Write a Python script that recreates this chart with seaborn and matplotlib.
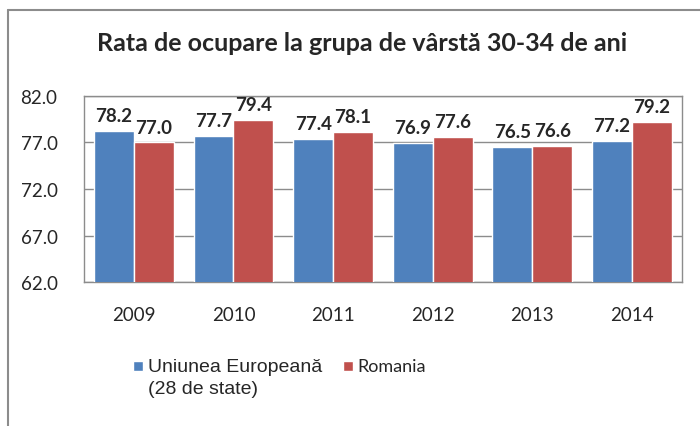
import matplotlib
matplotlib.use("Agg")
from matplotlib import pyplot as plt
from matplotlib.lines import Line2D
import seaborn as sns
import pandas as pd

years = ["2009", "2010", "2011", "2012", "2013", "2014"]
ue_values = [78.2, 77.7, 77.4, 76.9, 76.5, 77.2]
ro_values = [77.0, 79.4, 78.1, 77.6, 76.6, 79.2]
series_names = ["Uniunea Europeană", "Romania"]
ue_note = "(28 de state)"
y_ticks = [62, 67, 72, 77, 82]

df = pd.DataFrame({
    "an": years * 2,
    "valoare": ue_values + ro_values,
    "serie": [series_names[0]] * len(years) + [series_names[1]] * len(years),
})

sns.set_style("white")
plt.rcParams["font.family"] = ["Lato", "DejaVu Sans"]
arial = ["Liberation Sans", "DejaVu Sans"]

fig = plt.figure(figsize=(7, 4.27), dpi=100)
ax = fig.add_axes([0.12, 0.337, 0.854, 0.436])

sns.barplot(data=df, x="an", y="valoare", hue="serie",
            palette=["#4F81BD", "#C0504D"], width=0.8, saturation=1,
            ax=ax, zorder=3)

ax.set_ylim(62, 82)
ax.set_yticks(y_ticks)
ax.set_yticklabels([f"{v:.1f}" for v in y_ticks], fontsize=13.5)
ax.tick_params(axis="x", labelsize=13.5, pad=17, length=0)
ax.tick_params(axis="y", length=0, pad=19)
ax.set_xlabel("")
ax.set_ylabel("")
ax.grid(axis="y", color="#8c8c8c", linewidth=1, zorder=0)
for s in ax.spines.values():
    s.set_color("#8c8c8c")
    s.set_linewidth(1)

for cont in ax.containers:
    ax.bar_label(cont, fmt="%.1f", fontsize=13.5, fontweight="bold", padding=5)

fig.suptitle("Rata de ocupare la grupa de vârstă 30-34 de ani",
             x=0.517, y=0.925, fontsize=18, fontweight="bold")

leg = ax.legend(loc="upper left", bbox_to_anchor=(0.19, 0.16),
                bbox_transform=fig.transFigure, ncol=2,
                frameon=False, handlelength=0.75, handleheight=0.75,
                columnspacing=1.5, handletextpad=0.3, borderpad=0,
                borderaxespad=0)
texts = leg.get_texts()
texts[0].set_fontfamily(arial)
texts[0].set_fontsize(14)
texts[1].set_fontsize(13)

# second line of the EU label, aligned with the legend text
fig.canvas.draw()
bb = texts[0].get_window_extent().transformed(fig.transFigure.inverted())
fig.text(bb.x0, bb.y0 - 0.012, ue_note, ha="left", va="top",
         fontsize=14, family=arial)

# outer chart frame (left and top edges visible)
fig.add_artist(Line2D([0.011, 0.011], [0.0, 0.974], transform=fig.transFigure,
                      color="#8c8c8c", linewidth=1.5))
fig.add_artist(Line2D([0.011, 1.0], [0.974, 0.974], transform=fig.transFigure,
                      color="#8c8c8c", linewidth=1.5))

fig.savefig("out.png", dpi=100)
